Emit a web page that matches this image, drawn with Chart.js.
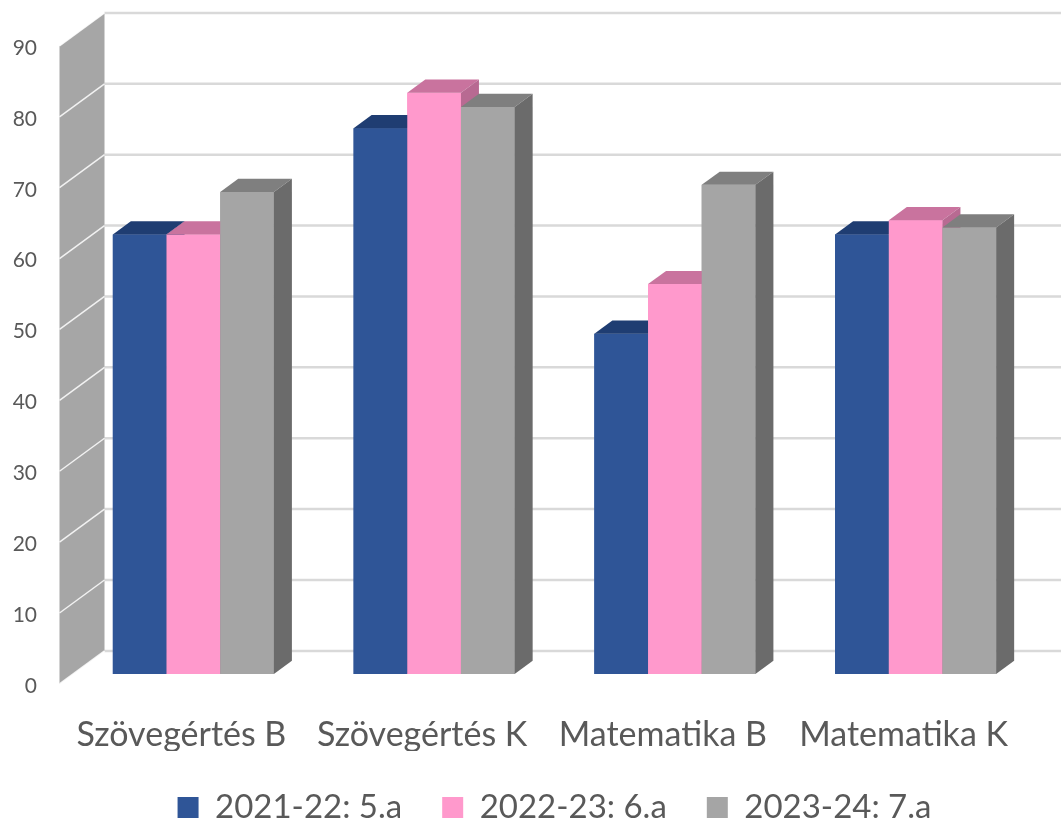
<!DOCTYPE html>
<html>
<head>
<meta charset="utf-8">
<script src="https://cdn.jsdelivr.net/npm/chart.js@4/dist/chart.umd.min.js"></script>
<style>
  body { margin: 0; background: #fff; }
  canvas { display: block; }
</style>
</head>
<body>
<canvas id="myChart" width="1061" height="825"></canvas>
<script>
var kategoriak = ['Szövegértés B', 'Szövegértés K', 'Matematika B', 'Matematika K'];
var sorozatNevek = ['2021-22: 5.a', '2022-23: 6.a', '2023-24: 7.a'];
var ertekek5a = [62, 77, 48, 62];
var ertekek6a = [62, 82, 55, 64];
var ertekek7a = [68, 80, 69, 63];
var yTickek = [0, 10, 20, 30, 40, 50, 60, 70, 80, 90];

// szinek: elolap, teteje, oldala
var szinek = [
  ['#2f5597', '#1f3d72', '#223f74'],
  ['#ff99cc', '#c9739e', '#b86a92'],
  ['#a5a5a5', '#7f7f7f', '#6b6b6b']
];

// 3D melyseg (ferde vetites)
var melyX = 18, melyY = 13.2;      // oszlop melysege
var falX = 31.5, falY = 23.1;      // hatso fal az oszlop elejehez kepest
var elX = -13.5, elY = 9.9;        // oldalfal eleje

var harom_d = {
  id: 'haromD',
  beforeDatasetsDraw: function (chart) {
    var ctx = chart.ctx;
    var y = chart.scales.y;
    var area = chart.chartArea;
    var y0 = y.getPixelForValue(0), y90 = y.getPixelForValue(90);
    var bx = area.left + falX, fx = area.left + elX;
    ctx.save();
    // hatso fal racsvonalai
    ctx.strokeStyle = '#d9d9d9';
    ctx.lineWidth = 2.5;
    yTickek.forEach(function (v) {
      var py = y.getPixelForValue(v) - falY;
      ctx.beginPath();
      ctx.moveTo(bx, py);
      ctx.lineTo(chart.width, py);
      ctx.stroke();
    });
    // bal oldalfal
    ctx.fillStyle = '#a6a6a6';
    ctx.beginPath();
    ctx.moveTo(fx, y0 + elY);
    ctx.lineTo(fx, y90 + elY);
    ctx.lineTo(bx, y90 - falY);
    ctx.lineTo(bx, y0 - falY);
    ctx.closePath();
    ctx.fill();
    ctx.strokeStyle = 'rgba(255,255,255,0.85)';
    ctx.lineWidth = 1.5;
    yTickek.forEach(function (v) {
      var py = y.getPixelForValue(v);
      ctx.beginPath();
      ctx.moveTo(fx, py + elY);
      ctx.lineTo(bx, py - falY);
      ctx.stroke();
    });
    ctx.restore();
  },
  afterDatasetsDraw: function (chart) {
    // balrol jobbra ujrarajzolva, hogy a takaras jo legyen
    var ctx = chart.ctx;
    ctx.save();
    for (var i = 0; i < chart.data.datasets.length; i++) {
      var sz = szinek[i];
      chart.getDatasetMeta(i).data.forEach(function (bar) {
        bar.draw(ctx);
        var p = bar.getProps(['x', 'y', 'base', 'width'], true);
        var l = p.x - p.width / 2, r = p.x + p.width / 2;
        ctx.fillStyle = sz[1];
        ctx.beginPath();
        ctx.moveTo(l, p.y);
        ctx.lineTo(r, p.y);
        ctx.lineTo(r + melyX, p.y - melyY);
        ctx.lineTo(l + melyX, p.y - melyY);
        ctx.closePath();
        ctx.fill();
        ctx.fillStyle = sz[2];
        ctx.beginPath();
        ctx.moveTo(r, p.y);
        ctx.lineTo(r + melyX, p.y - melyY);
        ctx.lineTo(r + melyX, p.base - melyY);
        ctx.lineTo(r, p.base);
        ctx.closePath();
        ctx.fill();
      });
    }
    ctx.restore();
  }
};

Chart.defaults.font.family = 'Lato, "Open Sans", sans-serif';
Chart.defaults.color = '#595959';

var ctx = document.getElementById('myChart');
var chart = new Chart(ctx, {
  type: 'bar',
  data: {
    labels: kategoriak,
    datasets: [
      { label: sorozatNevek[0], data: ertekek5a, backgroundColor: szinek[0][0] },
      { label: sorozatNevek[1], data: ertekek6a, backgroundColor: szinek[1][0] },
      { label: sorozatNevek[2], data: ertekek7a, backgroundColor: szinek[2][0] }
    ]
  },
  options: {
    responsive: false,
    animation: false,
    devicePixelRatio: 1,
    layout: { padding: { top: 36, right: 25, left: 0, bottom: -9 } },
    datasets: { bar: { categoryPercentage: 0.669, barPercentage: 1, borderWidth: 0 } },
    scales: {
      x: {
        grid: { display: false },
        border: { display: false },
        ticks: { font: { size: 34 }, color: '#595959', labelOffset: -12, padding: 33 },
        afterFit: function (s) { s.height = 77; }
      },
      y: {
        min: 0,
        max: 90,
        grid: { display: false, drawTicks: false },
        border: { display: false },
        ticks: { stepSize: 10, font: { size: 21 }, color: '#595959', padding: 36, labelOffset: 12 },
        afterFit: function (s) { s.width = 73; s.paddingTop = 0; s.paddingBottom = 0; }
      }
    },
    plugins: {
      legend: {
        position: 'bottom',
        fullSize: false,
        labels: { boxWidth: 21, boxHeight: 21, font: { size: 33 }, color: '#595959', padding: 40 }
      },
      tooltip: { enabled: false }
    }
  },
  plugins: [harom_d]
});
</script>
</body>
</html>
